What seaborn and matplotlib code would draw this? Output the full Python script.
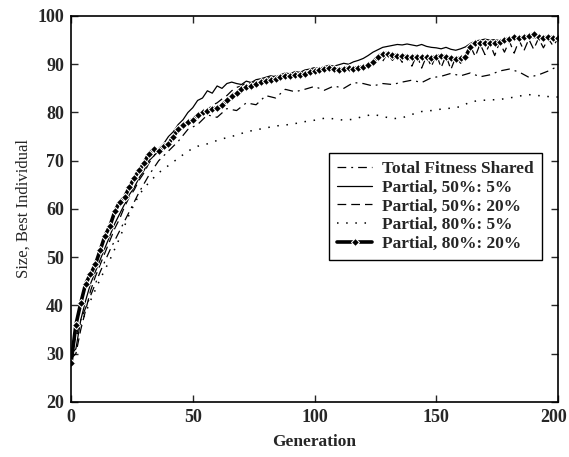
import numpy as np
import pandas as pd
import matplotlib
matplotlib.use("Agg")
import matplotlib.pyplot as plt
import matplotlib.transforms as mtransforms
import seaborn as sns

# generations (step 2 for the busy series, step 4 for the smoother ones)
gen_fine = np.arange(0, 201, 2)
gen_coarse = np.arange(0, 201, 4)

# Partial, 80%: 20%  (thick line with diamonds)
p80_20 = [28, 36, 40.5, 44.5, 46.5, 48.5, 51.5, 54.5, 56.5, 59.5,
          61.5, 62.5, 64.5, 66.5, 68, 69.5, 71.5, 72.5, 72, 73,
          73.5, 75, 76.5, 77.5, 78, 78.5, 79.5, 80, 80.3, 80.8,
          81, 81.5, 82.5, 83.5, 84, 84.8, 85.2, 85.5, 86, 86.3,
          86.5, 86.8, 87, 87.3, 87.5, 87.6, 87.8, 87.7, 88, 88.3,
          88.5, 88.8, 89, 89.2, 89, 88.8, 89, 89.2, 89.1, 89.3,
          89.5, 89.8, 90.5, 91.5, 92.2, 92.2, 92, 91.8, 91.7, 91.6,
          91.5, 91.6, 91.4, 91.5, 91.3, 91.6, 91.8, 91.5, 91.3, 91.1,
          91.3, 91.6, 93.5, 94.3, 94.4, 94.5, 94.4, 94.5, 94.6, 95,
          95.3, 95.6, 95.4, 95.6, 95.8, 96.3, 95.6, 95.4, 95.7, 95.5,
          95.4]

# Partial, 50%: 5%  (solid)
p50_5 = [30, 31, 37, 41, 44.5, 47, 49.5, 52, 54.5, 57,
         59, 61, 63, 64.5, 66.5, 68, 70, 71, 72.5, 73.5,
         75, 76, 77.5, 78.5, 80, 81, 82.5, 83, 84.5, 84,
         85.5, 85, 86, 86.3, 86, 85.8, 86.5, 86.2, 86.8, 87,
         87.3, 87.6, 87.4, 87.8, 88.2, 88, 88.5, 88.3, 88.8, 89,
         89.3, 89.1, 89.5, 89.8, 89.6, 89.9, 90.2, 90, 90.5, 90.8,
         91.2, 91.8, 92.5, 93, 93.5, 93.7, 93.9, 94.1, 94, 94.2,
         94, 93.8, 94.1, 93.7, 93.5, 93.4, 93.2, 93.5, 93.1, 92.9,
         93.2, 93.6, 94.3, 94.8, 95, 95.2, 95, 95.1, 94.9, 95.2,
         95.3, 95.5, 95.2, 95.4, 95.6, 95.5, 95.3, 95.6, 95.4, 95.5,
         95.2]

# Partial, 50%: 20%  (dashed)
p50_20 = [29, 30, 35, 39, 43, 46, 48.5, 51, 53.5, 56,
          58, 60.5, 62.5, 64, 66, 67.5, 69.5, 71, 72, 73,
          74, 75.5, 76.5, 77, 78, 78.5, 79.5, 80, 80.5, 81.5,
          82, 82.8, 83.5, 84.5, 85.2, 85.5, 86.2, 86, 86.5, 87,
          86.8, 87.4, 87.6, 87.3, 87.9, 88.1, 87.6, 88.4, 88.2, 88.7,
          89, 88.5, 89.2, 88.8, 89.3, 89.1, 88.7, 89.4, 89.2, 89.6,
          89.4, 90, 90.8, 91.8, 90.6, 92.3, 90.8, 92.1, 90.4, 91.9,
          89.6, 92, 89.2, 91.7, 89.5, 92.1, 89.3, 91.8, 88.9, 91.5,
          90.2, 91.4, 93.8, 91.6, 94.2, 92, 94.3, 91.8, 94.6, 92.5,
          94.8, 92.3, 95, 92.8, 95.2, 93.1, 95.4, 93.4, 95.3, 93.8,
          95.3]

# Total Fitness Shared  (dash-dot)
total_shared = [30, 37, 42, 47, 51.5, 55.5, 59.5, 63.5, 67, 70,
                72, 74, 76.5, 77.5, 79.5, 79, 80.8, 80.4, 82, 81.6,
                83.5, 83, 84.8, 84.3, 84.8, 85.4, 84.6, 85.5, 85, 86.2,
                86, 85.5, 86, 85.8, 86.3, 86.7, 86.2, 87.2, 87.5, 88.1,
                87.6, 88.2, 87.4, 87.8, 88.6, 89, 88.4, 87.3, 87.8, 88.6,
                89.6]

# Partial, 80%: 5%  (dotted)
p80_5 = [30.5, 36, 41, 45.5, 49.5, 54, 59, 63, 65.5, 67.5,
         69, 70.5, 72, 73, 73.5, 74.2, 74.8, 75.3, 76, 76.4,
         76.8, 77.2, 77.4, 77.7, 78.1, 78.4, 78.8, 78.7, 78.4, 78.6,
         79.2, 79.6, 79.2, 78.7, 78.9, 79.6, 80.2, 80.4, 80.7, 80.9,
         81.2, 82.2, 82.5, 82.6, 82.7, 83, 83.4, 83.7, 83.5, 83.3,
         83.2]

sns.set_style("ticks")
plt.rcParams["font.family"] = ["Liberation Serif", "DejaVu Serif"]
plt.rcParams["axes.linewidth"] = 1.2

fig = plt.figure(figsize=(5.69, 4.57), dpi=100)
ax = fig.add_axes([0.1248, 0.1204, 0.8559, 0.8446])

series = [
    ("Total Fitness Shared", gen_coarse, total_shared, dict(lw=0.9, linestyle=(0, (7, 4, 1.5, 4)))),
    ("Partial, 50%: 5%", gen_fine, p50_5, dict(lw=0.9, linestyle="-")),
    ("Partial, 50%: 20%", gen_fine, p50_20, dict(lw=0.9, linestyle=(0, (7, 4)))),
    ("Partial, 80%: 5%", gen_coarse, p80_5, dict(lw=1.1, linestyle=(0, (1, 5)))),
    ("Partial, 80%: 20%", gen_fine, p80_20, dict(lw=2.6, linestyle="-", marker="D", markersize=3.8)),
]

for name, g, vals, kw in series:
    df = pd.DataFrame({"Generation": g, "Size": vals})
    sns.lineplot(data=df, x="Generation", y="Size", ax=ax, color="black",
                 label=name, **kw)

ax.set_xlim(0, 200)
ax.set_ylim(20, 100)
ax.set_xticks([0, 50, 100, 150, 200])
ax.set_yticks(range(20, 101, 10))
ax.tick_params(direction="in", length=5, width=1, top=True, right=True,
               labelsize=13, pad=5)
for lab in ax.get_xticklabels() + ax.get_yticklabels():
    lab.set_fontweight("bold")
for s in ax.spines.values():
    s.set_color("black")

# nudge the last x label so it stays inside the figure
last = ax.get_xticklabels()[-1]
last.set_transform(last.get_transform() +
                   mtransforms.ScaledTranslation(-4 / 100, 0, fig.dpi_scale_trans))

ax.set_xlabel("Generation", fontsize=12.5, fontweight="bold", labelpad=6)
ax.set_ylabel("Size, Best Individual", fontsize=12, labelpad=4)

leg = ax.legend(loc="upper right", bbox_to_anchor=(0.967, 0.645),
                fancybox=False, edgecolor="black", framealpha=1,
                prop={"weight": "bold", "size": 12.5},
                handlelength=2.0, handletextpad=0.6, labelspacing=0.15,
                borderpad=0.45, borderaxespad=0)
leg.get_frame().set_linewidth(1.0)

fig.savefig("out.png", dpi=100)
